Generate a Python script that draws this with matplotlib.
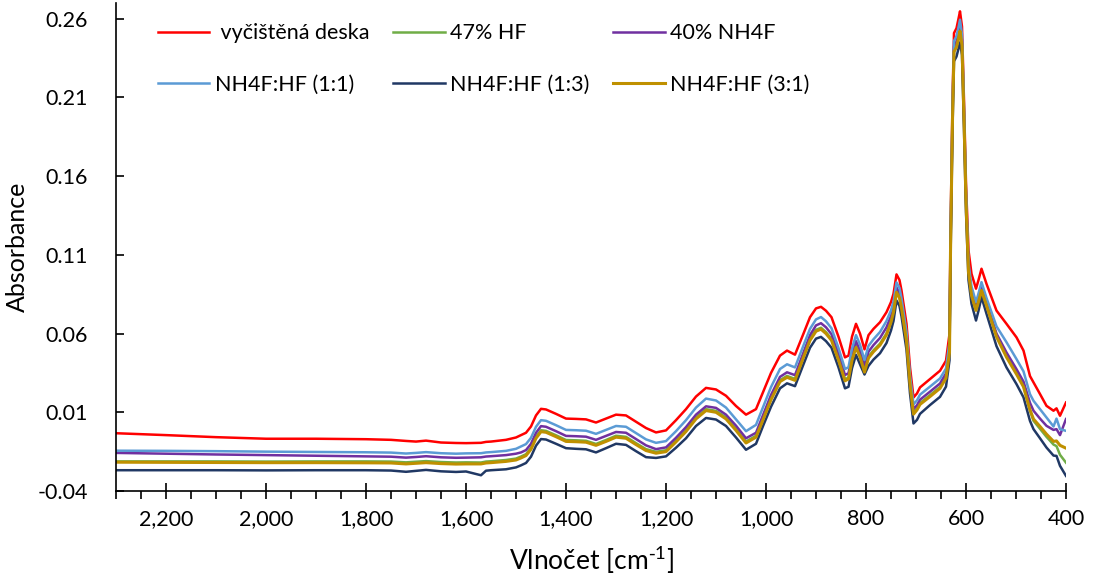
import numpy as np
import matplotlib.pyplot as plt
from matplotlib.ticker import MultipleLocator, FuncFormatter

plt.rcParams['font.family'] = ['Lato', 'DejaVu Sans']
plt.rcParams['mathtext.default'] = 'regular'

# Wavenumbers [cm-1] (same grid for every series)
wavenumber = [
    2300, 2200, 2100, 2000, 1900, 1800, 1750, 1720, 1700, 1680,
    1650, 1620, 1600, 1570, 1560, 1550, 1520, 1500, 1490, 1480,
    1470, 1460, 1450, 1440, 1420, 1400, 1380, 1360, 1340, 1320,
    1300, 1280, 1260, 1240, 1220, 1200, 1180, 1160, 1140, 1120,
    1100, 1080, 1060, 1040, 1020, 1005, 990, 972, 958, 942,
    925, 912, 900, 890, 880, 869, 855, 842, 835, 828,
    820, 812, 803, 795, 785, 772, 759, 750, 745, 739,
    733, 729, 719, 712, 705, 698, 692, 672, 652, 640,
    633, 631, 627, 624, 619, 615, 612, 608, 604, 600,
    595, 589, 580, 575, 569, 559, 539, 519, 499, 485,
    472, 465, 452, 439, 425, 419, 412, 400,
]

cisty = [
    -0.0033, -0.0045, -0.0058, -0.0068, -0.0068, -0.0071, -0.0075, -0.0082, -0.0086, -0.0080,
    -0.0092, -0.0095, -0.0096, -0.0094, -0.0088, -0.0086, -0.0075, -0.0060, -0.0045, -0.0030,
    0.0010, 0.0080, 0.0122, 0.0118, 0.0090, 0.0060, 0.0058, 0.0055, 0.0035, 0.0060,
    0.0085, 0.0080, 0.0040, 0.0000, -0.0028, -0.0015, 0.0050, 0.0120, 0.0200, 0.0255,
    0.0245, 0.0205, 0.0140, 0.0085, 0.0120, 0.0235, 0.0350, 0.0460, 0.0492, 0.0466,
    0.0600, 0.0704, 0.0760, 0.0770, 0.0745, 0.0704, 0.0580, 0.0449, 0.0460, 0.0580,
    0.0662, 0.0600, 0.0500, 0.0590, 0.0630, 0.0672, 0.0736, 0.0800, 0.0853, 0.0976,
    0.0940, 0.0874, 0.0662, 0.0385, 0.0194, 0.0220, 0.0258, 0.0311, 0.0364, 0.0428,
    0.0598, 0.1235, 0.2080, 0.2509, 0.2540, 0.2600, 0.2647, 0.2550, 0.2080, 0.1553,
    0.1129, 0.0980, 0.0885, 0.0940, 0.1012, 0.0916, 0.0746, 0.0662, 0.0576, 0.0492,
    0.0330, 0.0290, 0.0216, 0.0141, 0.0110, 0.0125, 0.0078, 0.0162,
]

hf47 = [
    -0.0212, -0.0212, -0.0212, -0.0213, -0.0212, -0.0212, -0.0213, -0.0218, -0.0214, -0.0210,
    -0.0216, -0.0219, -0.0218, -0.0219, -0.0213, -0.0211, -0.0203, -0.0194, -0.0181, -0.0166,
    -0.0126, -0.0056, -0.0014, -0.0018, -0.0046, -0.0076, -0.0078, -0.0081, -0.0101, -0.0076,
    -0.0049, -0.0056, -0.0096, -0.0134, -0.0151, -0.0141, -0.0079, -0.0013, 0.0067, 0.0120,
    0.0109, 0.0067, -0.0006, -0.0086, -0.0049, 0.0069, 0.0189, 0.0304, 0.0331, 0.0312,
    0.0459, 0.0566, 0.0624, 0.0637, 0.0609, 0.0566, 0.0441, 0.0309, 0.0321, 0.0439,
    0.0521, 0.0461, 0.0364, 0.0454, 0.0494, 0.0536, 0.0601, 0.0681, 0.0744, 0.0872,
    0.0836, 0.0771, 0.0561, 0.0287, 0.0097, 0.0124, 0.0159, 0.0209, 0.0261, 0.0326,
    0.0489, 0.1124, 0.1969, 0.2399, 0.2429, 0.2484, 0.2531, 0.2439, 0.1969, 0.1442,
    0.0999, 0.0851, 0.0756, 0.0811, 0.0883, 0.0787, 0.0588, 0.0458, 0.0350, 0.0268,
    0.0112, 0.0046, -0.0005, -0.0056, -0.0105, -0.0115, -0.0170, -0.0220,
]

nh4f40 = [
    -0.0158, -0.0163, -0.0168, -0.0172, -0.0176, -0.0180, -0.0182, -0.0188, -0.0184, -0.0179,
    -0.0186, -0.0189, -0.0188, -0.0186, -0.0181, -0.0179, -0.0172, -0.0163, -0.0155, -0.0140,
    -0.0100, -0.0030, 0.0012, 0.0008, -0.0020, -0.0050, -0.0052, -0.0055, -0.0075, -0.0050,
    -0.0025, -0.0030, -0.0070, -0.0110, -0.0134, -0.0123, -0.0062, 0.0006, 0.0085, 0.0138,
    0.0128, 0.0085, 0.0015, -0.0065, -0.0030, 0.0090, 0.0210, 0.0325, 0.0354, 0.0336,
    0.0480, 0.0590, 0.0652, 0.0666, 0.0640, 0.0596, 0.0470, 0.0337, 0.0348, 0.0468,
    0.0552, 0.0492, 0.0395, 0.0485, 0.0527, 0.0572, 0.0640, 0.0712, 0.0770, 0.0893,
    0.0858, 0.0792, 0.0582, 0.0305, 0.0120, 0.0145, 0.0180, 0.0231, 0.0283, 0.0348,
    0.0515, 0.1150, 0.1995, 0.2424, 0.2455, 0.2510, 0.2560, 0.2465, 0.1995, 0.1468,
    0.1015, 0.0865, 0.0768, 0.0823, 0.0895, 0.0796, 0.0600, 0.0480, 0.0374, 0.0295,
    0.0160, 0.0110, 0.0060, 0.0014, -0.0012, -0.0007, -0.0045, 0.0057,
]

mix_1_1 = [
    -0.0144, -0.0145, -0.0147, -0.0150, -0.0152, -0.0154, -0.0156, -0.0162, -0.0158, -0.0153,
    -0.0160, -0.0163, -0.0161, -0.0160, -0.0155, -0.0153, -0.0145, -0.0132, -0.0117, -0.0102,
    -0.0062, 0.0008, 0.0050, 0.0046, 0.0018, -0.0012, -0.0014, -0.0017, -0.0037, -0.0012,
    0.0013, 0.0008, -0.0032, -0.0072, -0.0094, -0.0083, -0.0020, 0.0050, 0.0130, 0.0187,
    0.0175, 0.0130, 0.0055, -0.0020, 0.0020, 0.0140, 0.0260, 0.0375, 0.0405, 0.0385,
    0.0525, 0.0630, 0.0690, 0.0705, 0.0678, 0.0634, 0.0508, 0.0375, 0.0386, 0.0505,
    0.0590, 0.0530, 0.0432, 0.0522, 0.0564, 0.0610, 0.0680, 0.0748, 0.0803, 0.0925,
    0.0890, 0.0824, 0.0612, 0.0337, 0.0150, 0.0176, 0.0212, 0.0263, 0.0315, 0.0378,
    0.0548, 0.1185, 0.2030, 0.2459, 0.2490, 0.2545, 0.2594, 0.2500, 0.2030, 0.1500,
    0.1050, 0.0900, 0.0800, 0.0855, 0.0927, 0.0826, 0.0646, 0.0545, 0.0438, 0.0360,
    0.0215, 0.0173, 0.0120, 0.0067, 0.0010, 0.0060, -0.0007, -0.0018,
]

mix_1_3 = [
    -0.0268, -0.0268, -0.0268, -0.0269, -0.0268, -0.0268, -0.0270, -0.0278, -0.0272, -0.0266,
    -0.0275, -0.0279, -0.0276, -0.0300, -0.0271, -0.0268, -0.0262, -0.0250, -0.0237, -0.0222,
    -0.0182, -0.0112, -0.0070, -0.0073, -0.0100, -0.0128, -0.0132, -0.0135, -0.0155, -0.0128,
    -0.0100, -0.0107, -0.0147, -0.0185, -0.0190, -0.0180, -0.0125, -0.0065, 0.0013, 0.0064,
    0.0054, 0.0013, -0.0060, -0.0138, -0.0100, 0.0020, 0.0135, 0.0252, 0.0284, 0.0266,
    0.0405, 0.0510, 0.0568, 0.0579, 0.0552, 0.0510, 0.0385, 0.0252, 0.0262, 0.0380,
    0.0465, 0.0405, 0.0340, 0.0395, 0.0435, 0.0475, 0.0540, 0.0620, 0.0680, 0.0810,
    0.0775, 0.0710, 0.0497, 0.0220, 0.0029, 0.0052, 0.0090, 0.0146, 0.0198, 0.0263,
    0.0430, 0.1060, 0.1900, 0.2330, 0.2360, 0.2410, 0.2450, 0.2370, 0.1900, 0.1373,
    0.0940, 0.0790, 0.0683, 0.0745, 0.0832, 0.0726, 0.0520, 0.0385, 0.0279, 0.0195,
    0.0045, -0.0007, -0.0065, -0.0124, -0.0175, -0.0177, -0.0240, -0.0304,
]

mix_3_1 = [
    -0.0217, -0.0218, -0.0219, -0.0220, -0.0220, -0.0221, -0.0222, -0.0228, -0.0224, -0.0220,
    -0.0226, -0.0229, -0.0228, -0.0228, -0.0222, -0.0220, -0.0212, -0.0203, -0.0190, -0.0175,
    -0.0135, -0.0065, -0.0023, -0.0027, -0.0055, -0.0085, -0.0087, -0.0090, -0.0110, -0.0085,
    -0.0058, -0.0065, -0.0105, -0.0143, -0.0160, -0.0150, -0.0088, -0.0022, 0.0058, 0.0111,
    0.0100, 0.0058, -0.0015, -0.0095, -0.0058, 0.0060, 0.0180, 0.0295, 0.0322, 0.0303,
    0.0450, 0.0557, 0.0615, 0.0628, 0.0600, 0.0557, 0.0432, 0.0300, 0.0312, 0.0430,
    0.0512, 0.0452, 0.0355, 0.0445, 0.0485, 0.0527, 0.0592, 0.0672, 0.0735, 0.0863,
    0.0827, 0.0762, 0.0552, 0.0278, 0.0088, 0.0115, 0.0150, 0.0200, 0.0252, 0.0317,
    0.0480, 0.1115, 0.1960, 0.2390, 0.2420, 0.2475, 0.2522, 0.2430, 0.1960, 0.1433,
    0.0990, 0.0842, 0.0747, 0.0802, 0.0874, 0.0778, 0.0580, 0.0450, 0.0342, 0.0262,
    0.0115, 0.0057, 0.0010, -0.0039, -0.0085, -0.0082, -0.0110, -0.0128,
]

series = [
    (" vyčištěná deska", cisty, "#FF0000", 1.8),
    ("47% HF", hf47, "#70AD47", 1.8),
    ("40% NH4F", nh4f40, "#7030A0", 1.8),
    ("NH4F:HF (1:1)", mix_1_1, "#5B9BD5", 1.8),
    ("NH4F:HF (1:3)", mix_1_3, "#203864", 1.8),
    ("NH4F:HF (3:1)", mix_3_1, "#BF9000", 2.2),
]

fig = plt.figure(figsize=(10.93, 5.83), dpi=100)
ax = fig.add_axes([116 / 1093, 1 - 491 / 583, 950 / 1093, 488 / 583])

lines = []
for label, values, color, lw in series:
    ln, = ax.plot(wavenumber, values, color=color, lw=lw, label=label)
    lines.append(ln)

ax.set_xlim(2300, 400)
ax.set_ylim(-0.04, 0.27)

yticks = [-0.04, 0.01, 0.06, 0.11, 0.16, 0.21, 0.26]
ax.set_yticks(yticks)
ax.set_yticklabels(["-0.04", "0.01", "0.06", "0.11", "0.16", "0.21", "0.26"])
ax.xaxis.set_major_locator(MultipleLocator(200))
ax.xaxis.set_minor_locator(MultipleLocator(50))
ax.xaxis.set_major_formatter(FuncFormatter(lambda v, p: "{:,.0f}".format(v)))

ax.tick_params(axis="x", which="major", direction="inout", length=12, width=1.2,
               labelsize=15.5, pad=7)
ax.tick_params(axis="x", which="minor", direction="out", length=6, width=1.2)
ax.tick_params(axis="y", direction="in", length=6, width=1.2, labelsize=15.5, pad=20)

for side in ["top", "right"]:
    ax.spines[side].set_visible(False)
for side in ["left", "bottom"]:
    ax.spines[side].set_linewidth(1.2)

ax.set_xlabel("Vlnočet [cm$^{\\text{-}1}$]", fontsize=19, labelpad=11)
ax.set_ylabel("Absorbance", fontsize=18, labelpad=6)

# legend is filled column by column, so reorder to get Excel's row layout
order = [0, 3, 1, 4, 2, 5]
ax.legend([lines[i] for i in order], [series[i][0] for i in order],
          ncol=3, loc="upper left", bbox_to_anchor=(0.044, 0.958),
          frameon=False, fontsize=15.5, handlelength=2.4, handletextpad=0.25,
          columnspacing=1.1, labelspacing=1.45, borderpad=0, borderaxespad=0)

plt.savefig("out.png", dpi=100)
